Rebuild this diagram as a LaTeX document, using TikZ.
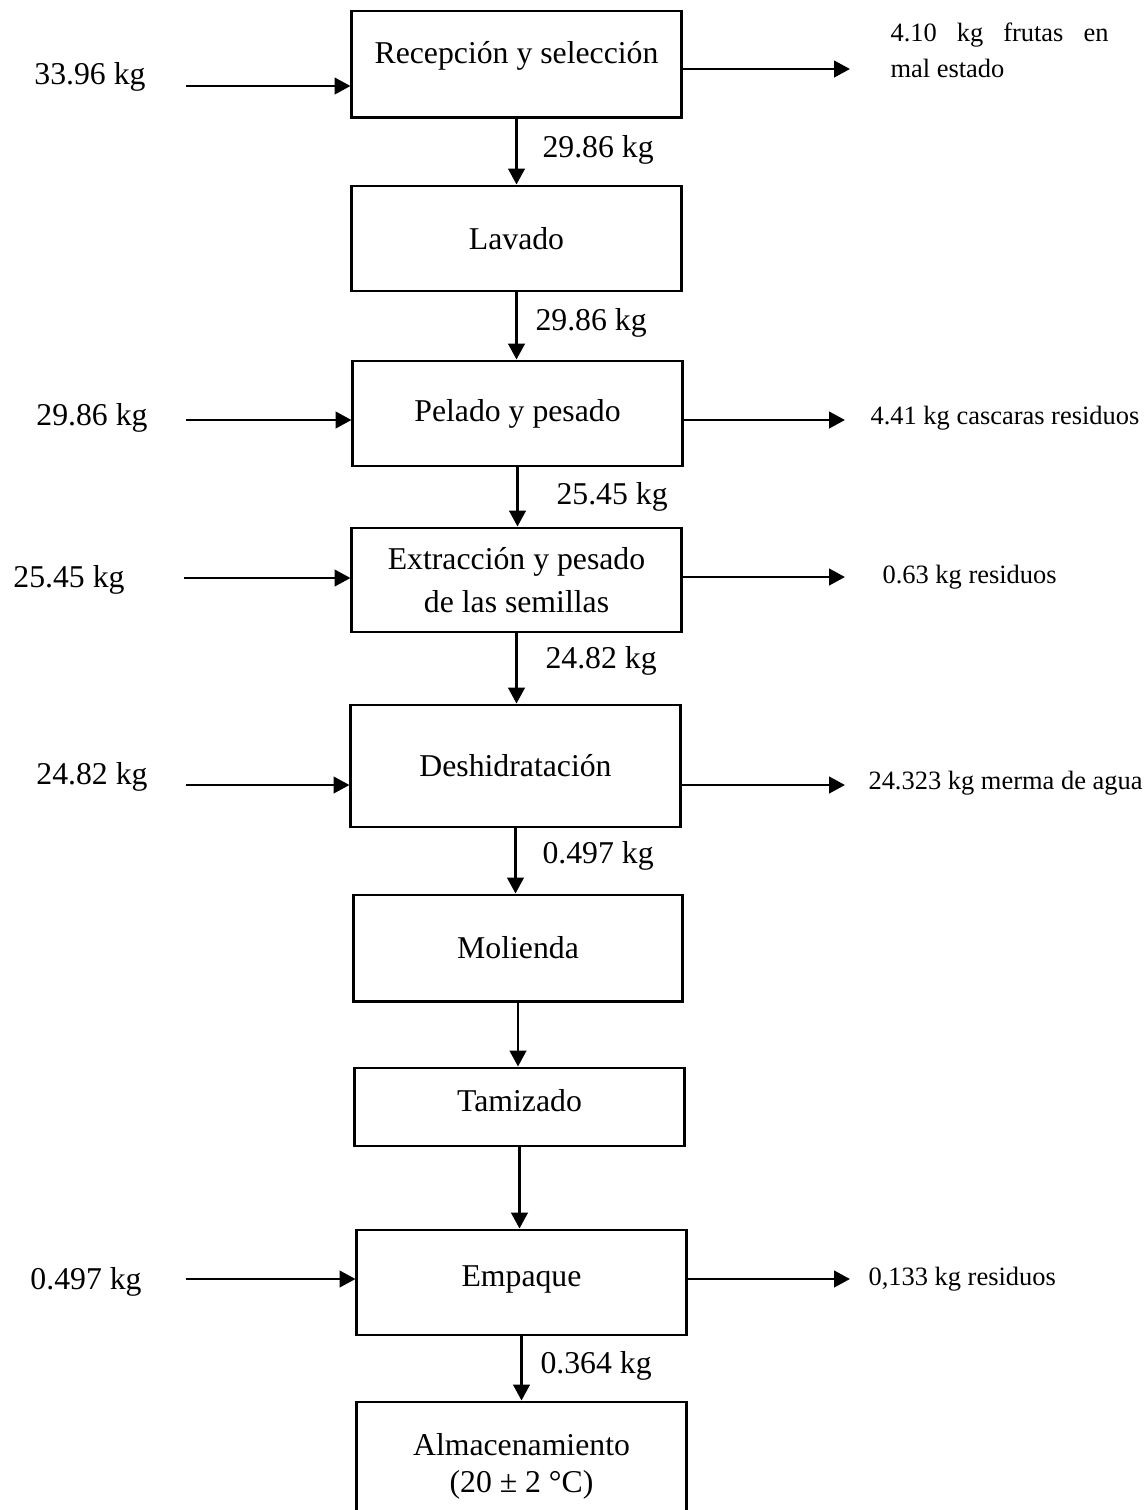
\documentclass[tikz,border=0pt]{standalone}
\usepackage{fontspec}
\setmainfont{Liberation Serif}
\usetikzlibrary{arrows.meta}

\tikzset{
  proc/.style={draw, line width=1.1pt, minimum width=124.4pt, minimum height=#1,
    inner sep=2pt, align=center, font=\fontsize{12}{14}\selectfont},
  proc/.default=39.7pt,
  flow/.style={line width=1.05pt, -{Triangle[length=6pt,width=6.2pt]}},
  inlbl/.style={inner sep=0pt, font=\fontsize{12}{14}\selectfont},
  qty/.style={anchor=west, inner sep=0pt, font=\fontsize{12}{14}\selectfont},
  outlbl/.style={anchor=west, inner sep=0pt, align=left, font=\fontsize{10}{13.6}\selectfont},
}

\begin{document}
\begin{tikzpicture}[x=0.378pt, y=-0.378pt]
\useasboundingbox (0,0) rectangle (1148,1510);
% etapas del proceso
\node[proc=40.1pt, text depth=8.4pt] (rec) at (516.5,64) {Recepción y selección};
\node[proc] (lav) at (516.5,238.5) {Lavado};
\node[proc] (pel) at (517.5,413.5) {Pelado y pesado};
\node[proc=39.3pt] (ext) at (516.5,580) {Extracción y pesado\\[2pt]de las semillas};
\node[proc=46.1pt] (des) at (515.5,766) {Deshidratación};
\node[proc=40.1pt] (mol) at (518,948) {Molienda};
\node[proc=29.5pt, text depth=4.6pt] (tam) at (519.5,1107) {Tamizado};
\node[proc, text depth=5.2pt] (emp) at (521.5,1282.5) {Empaque};
\node[proc=48.4pt] (alm) at (521.5,1466) {Almacenamiento\\(20 ± 2 °C)};

% flujo principal
\foreach \a/\b in {rec/lav, lav/pel, pel/ext, ext/des, des/mol, mol/tam, tam/emp, emp/alm}
  \draw[flow] (\a.south) -- (\a.south |- \b.north);
\node[qty] (q1) at (542,150) {29.86 kg};
\node[qty] (q2) at (535,323) {29.86 kg};
\node[qty] (q3) at (556,497) {25.45 kg};
\node[qty] (q4) at (545,661) {24.82 kg};
\node[qty] (q5) at (542,856) {0.497 kg};
\node[qty] (q6) at (540,1366) {0.364 kg};

% entradas
\node[inlbl] (in1) at (90,77) {33.96 kg};
\node[inlbl] (in3) at (92,418) {29.86 kg};
\node[inlbl] (in4) at (69,580) {25.45 kg};
\node[inlbl] (in5) at (92,777) {24.82 kg};
\node[inlbl] (in8) at (86,1282) {0.497 kg};
\coordinate (e1) at (186,86);
\coordinate (e3) at (186,420);
\coordinate (e4) at (184,578);
\coordinate (e5) at (186,785);
\coordinate (e8) at (186,1279);
\draw[flow] (e1) -- (e1 -| rec.west);
\draw[flow] (e3) -- (e3 -| pel.west);
\draw[flow] (e4) -- (e4 -| ext.west);
\draw[flow] (e5) -- (e5 -| des.west);
\draw[flow] (e8) -- (e8 -| emp.west);

% salidas
\coordinate (s1) at (850,69);
\coordinate (s3) at (845,420);
\coordinate (s4) at (845,577);
\coordinate (s5) at (845,785);
\coordinate (s8) at (850,1279);
\draw[flow] (rec.east |- s1) -- (s1);
\draw[flow] (pel.east |- s3) -- (s3);
\draw[flow] (ext.east |- s4) -- (s4);
\draw[flow] (des.east |- s5) -- (s5);
\draw[flow] (emp.east |- s8) -- (s8);
\node[outlbl] (out1) at (890,50) {\makebox[82.4pt][s]{4.10 kg frutas en}\\mal estado};
\node[outlbl] (out3) at (870,418) {4.41 kg cascaras residuos};
\node[outlbl] (out4) at (882,577) {0.63 kg residuos};
\node[outlbl] (out5) at (868,783) {24.323 kg merma de agua};
\node[outlbl] (out8) at (868,1279) {0,133 kg residuos};
\end{tikzpicture}
\end{document}
